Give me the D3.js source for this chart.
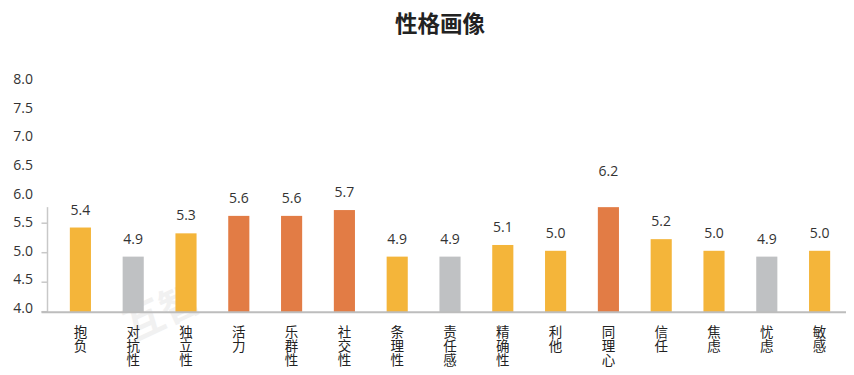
<!DOCTYPE html>
<html><head><meta charset="utf-8">
<script src="https://cdn.jsdelivr.net/npm/d3@7"></script>
<style>
html,body{margin:0;padding:0;background:#fff;}
svg{display:block;}
</style></head>
<body>
<svg id="chart" width="854" height="375"></svg>
<script>
const title = "性格画像";
const categories = ["抱负","对抗性","独立性","活力","乐群性","社交性","条理性","责任感","精确性","利他","同理心","信任","焦虑","忧虑","敏感"];
const values = [5.4,4.9,5.3,5.6,5.6,5.7,4.9,4.9,5.1,5.0,6.2,5.2,5.0,4.9,5.0];
const levels = ["mid","low","mid","high","high","high","mid","low","mid","mid","high","mid","mid","low","mid"];
const tickLabels = [4.0,4.5,5.0,5.5,6.0,6.5,7.0,7.5,8.0];
const tickMarks = [4.0,4.5,5.0,5.5];
const axisMax = 5.75;

const colors = {high:"#E27C45", mid:"#F4B53A", low:"#BFC1C3"};
const svg = d3.select("#chart");
const FONT = "'Open Sans','Noto Sans',sans-serif";
const CJK = "'Noto Sans CJK SC','Noto Sans',sans-serif";

const x = d3.scaleBand().domain(categories).range([54, 846]).paddingInner(0.6).paddingOuter(0.3);
const y = d3.scaleLinear().domain([4, 8]).range([311.7, 75.7]);     // tick marks
const yLab = d3.scaleLinear().domain([4, 8]).range([308, 79]);      // tick labels
const yBar = d3.scaleLinear().domain([4, 8]).range([309, 76.2]);    // bars
const base = 312.2;

// title
svg.append("text").attr("x", 440).attr("y", 31.5).attr("text-anchor","middle")
  .attr("font-family", CJK).attr("font-size", 22.5).attr("font-weight", "bold").attr("fill","#222")
  .text(title);

// watermark
svg.append("text").attr("transform","translate(168,325) rotate(-25)").attr("text-anchor","middle")
  .attr("font-family", CJK).attr("font-size", 40).attr("font-weight","bold").attr("fill","#000").attr("opacity",0.05)
  .text("互智");

// y axis (ticks + domain line only up to axisMax)
const yAxisG = svg.append("g").attr("transform","translate(47.5,0)");
yAxisG.append("line").attr("x1",0).attr("x2",0).attr("y1", yBar(axisMax)).attr("y2", base)
  .attr("stroke","#C8C8C8").attr("stroke-width",1.5);
yAxisG.selectAll("line.tick").data(tickMarks).join("line").attr("class","tick")
  .attr("x1",-6).attr("x2",0).attr("y1", d=>y(d)).attr("y2", d=>y(d))
  .attr("stroke","#C8C8C8").attr("stroke-width",1.5);
svg.append("g").selectAll("text").data(tickLabels).join("text")
  .attr("x", 33).attr("y", d=>yLab(d)).attr("dy","0.36em").attr("text-anchor","end")
  .attr("font-family", FONT).attr("font-size", 14).attr("fill","#333")
  .text(d=>d3.format(".1f")(d));

// bars
svg.append("g").selectAll("rect").data(categories).join("rect")
  .attr("x", d=>x(d)).attr("width", x.bandwidth())
  .attr("y", (d,i)=>yBar(Math.min(values[i], axisMax)))
  .attr("height", (d,i)=>base - yBar(Math.min(values[i], axisMax)))
  .attr("fill", (d,i)=>colors[levels[i]]);

// x axis line
svg.append("line").attr("x1", 41.5).attr("x2", 846).attr("y1", base).attr("y2", base)
  .attr("stroke","#BDBDBD").attr("stroke-width",2);

// value labels
svg.append("g").selectAll("text").data(categories).join("text")
  .attr("x", d=>x(d)+x.bandwidth()/2)
  .attr("y", (d,i)=>{ const v = values[i]; return v > axisMax ? yBar(v) - 5 : yBar(v) - 13; })
  .attr("text-anchor","middle")
  .attr("font-family", FONT).attr("font-size", 14).attr("fill","#333")
  .text((d,i)=>d3.format(".1f")(values[i]));

// category labels (vertical text)
svg.append("g").selectAll("text").data(categories).join("text")
  .attr("x", d=>x(d)+x.bandwidth()/2)
  .attr("y", 325)
  .style("writing-mode","vertical-rl")
  .style("text-orientation","upright")
  .style("letter-spacing","0.8px")
  .attr("font-family", CJK).attr("font-size", 13.5).attr("fill","#222")
  .text(d=>d);
</script>
</body></html>
